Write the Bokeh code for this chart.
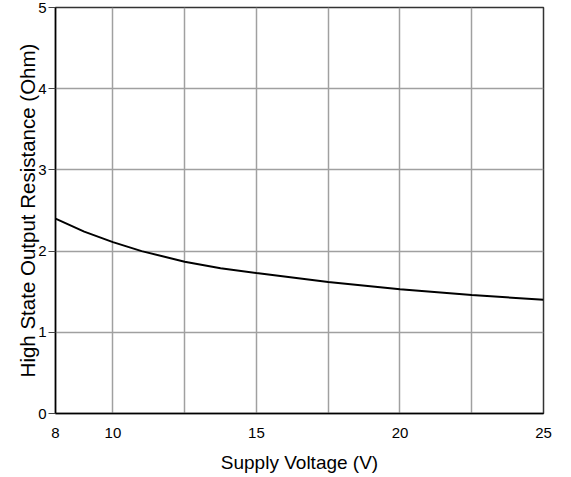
from bokeh.plotting import figure
from bokeh.models import FixedTicker, Range1d
from bokeh.embed import file_html
from bokeh.resources import INLINE

# Data
supply_voltage = [8, 9, 10, 11, 12.5, 13.75, 15, 17.5, 20, 22.5, 25]
output_resistance = [2.40, 2.24, 2.11, 2.00, 1.87, 1.79, 1.73, 1.62, 1.53, 1.46, 1.40]
x_tick_labels = [8, 10, 15, 20, 25]
x_grid_values = [10, 12.5, 15, 17.5, 20, 22.5, 25]
y_tick_labels = [0, 1, 2, 3, 4, 5]

FONT = "Liberation Sans"

p = figure(width=563, height=475, output_backend="svg", toolbar_location=None,
           x_range=Range1d(8, 25), y_range=Range1d(0, 5),
           min_border_left=55, min_border_right=20, min_border_top=7, min_border_bottom=10)

p.line(supply_voltage, output_resistance, line_color="black", line_width=2)

p.background_fill_color = "white"
p.border_fill_color = "white"
p.outline_line_color = "#333333"
p.outline_line_width = 1.5

p.xaxis.ticker = FixedTicker(ticks=x_tick_labels)
p.xgrid.ticker = FixedTicker(ticks=x_grid_values)
p.yaxis.ticker = FixedTicker(ticks=y_tick_labels)

for g in (p.xgrid, p.ygrid):
    g.grid_line_color = "#a0a0a0"
    g.grid_line_width = 1.5

p.xaxis.axis_line_color = "black"
p.yaxis.axis_line_color = "black"
p.xaxis.axis_line_width = 1.5
p.yaxis.axis_line_width = 1.5
p.xaxis.major_tick_out = 0
p.xaxis.major_tick_in = 0
p.xaxis.minor_tick_line_color = None
p.yaxis.minor_tick_line_color = None
p.yaxis.major_tick_out = 7
p.yaxis.major_tick_in = 0
p.yaxis.major_tick_line_color = "#444444"
p.yaxis.major_label_standoff = 2
p.xaxis.major_label_standoff = 14

for ax in (p.xaxis, p.yaxis):
    ax.major_label_text_font = FONT
    ax.major_label_text_font_size = "15px"
    ax.major_label_text_color = "black"
    ax.axis_label_text_font = FONT
    ax.axis_label_text_font_style = "normal"
    ax.axis_label_text_color = "black"

p.xaxis.axis_label = "Supply Voltage (V)"
p.xaxis.axis_label_text_font_size = "19px"
p.xaxis.axis_label_standoff = 11

p.yaxis.axis_label = "High State Output Resistance (Ohm)"
p.yaxis.axis_label_text_font_size = "20.5px"
p.yaxis.axis_label_standoff = -4

open("out.html", "w").write(file_html(p, INLINE))
